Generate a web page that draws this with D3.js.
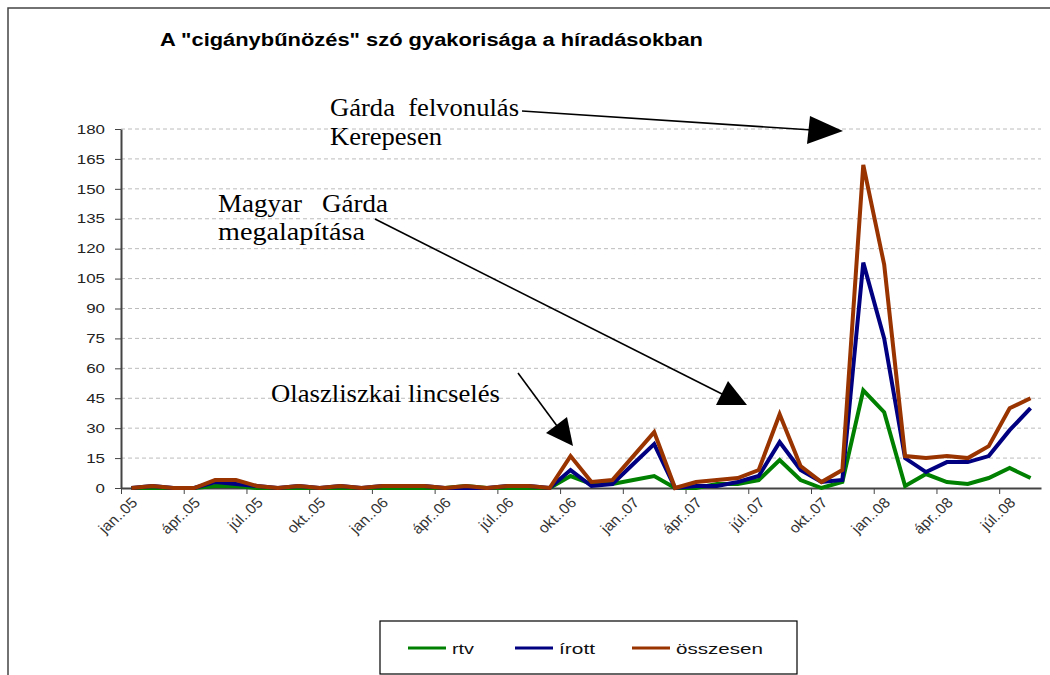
<!DOCTYPE html>
<html>
<head>
<meta charset="utf-8">
<script src="https://cdn.jsdelivr.net/npm/d3@7/dist/d3.min.js"></script>
<style>
  body { margin: 0; background: #fff; }
  svg { display: block; }
</style>
</head>
<body>
<svg width="1050" height="675"></svg>
<script>
// months, jan 2005 .. aug 2008 (Excel "mmm.yy" with Hungarian abbreviations)
var months = [
  "jan..05","febr..05","márc..05","ápr..05","máj..05","jún..05","júl..05","aug..05","szept..05","okt..05","nov..05","dec..05",
  "jan..06","febr..06","márc..06","ápr..06","máj..06","jún..06","júl..06","aug..06","szept..06","okt..06","nov..06","dec..06",
  "jan..07","febr..07","márc..07","ápr..07","máj..07","jún..07","júl..07","aug..07","szept..07","okt..07","nov..07","dec..07",
  "jan..08","febr..08","márc..08","ápr..08","máj..08","jún..08","júl..08","aug..08"
];

var rtv = [0,0,0,0,1,1,0,0,0,0, 0,0,0,0,0,0,1,0,0,0,
           0,6,2,2,4,6,0,0,2,2, 4,14,4,0,3,49,38,1,7,3, 2,5,10,5];
var irott = [0,1,0,0,3,2,1,0,1,0, 1,0,1,1,1,0,0,0,1,1,
             0,9,1,2,12,22,0,1,1,3, 6,23,9,3,4,113,75,15,8,13, 13,16,29,40];
var osszesen = [0,1,0,0,4,4,1,0,1,0, 1,0,1,1,1,0,1,0,1,1,
                0,16,3,4,16,28,0,3,4,5, 9,37,11,3,9,162,112,16,15,16, 15,21,40,45];

var yTicks = [0,15,30,45,60,75,90,105,120,135,150,165,180];
var seriesNames = ["rtv", "írott", "összesen"];
var seriesColors = ["#008000", "#000080", "#993300"];

var title = 'A "cigánybűnözés" szó gyakorisága a híradásokban';

var svg = d3.select("svg");
var sans = "'Liberation Sans', Arial, sans-serif";
var serif = "'Liberation Serif', 'Times New Roman', serif";

// picture is stretched sideways, so text gets a wider box
function stretch(sel, k) {
  sel.each(function() {
    var len = this.getComputedTextLength();
    d3.select(this).attr("textLength", len * k).attr("lengthAdjust", "spacingAndGlyphs");
  });
}

// outer frame (cut off right and bottom)
svg.append("rect")
  .attr("x", 8).attr("y", 8)
  .attr("width", 1100).attr("height", 700)
  .attr("fill", "#fff")
  .attr("stroke", "#444").attr("stroke-width", 1.5);

svg.append("text")
  .attr("x", 160).attr("y", 46)
  .attr("font-family", sans).attr("font-size", 18).attr("font-weight", "bold")
  .attr("textLength", 543).attr("lengthAdjust", "spacingAndGlyphs")
  .text(title);

var x = d3.scaleBand().domain(months).range([121, 1041]);
var xi = d3.scaleLinear().domain([0, months.length]).range([121, 1041]);
var y = d3.scaleLinear().domain([0, 180]).range([488, 129]);

// grid
svg.append("g").selectAll("line")
  .data(yTicks.filter(function(d) { return d > 0; }))
  .join("line")
  .attr("x1", 121).attr("x2", 1041)
  .attr("y1", function(d) { return y(d); })
  .attr("y2", function(d) { return y(d); })
  .attr("stroke", "#bcbcbc")
  .attr("stroke-dasharray", "4,3");

// y axis
var yAxis = svg.append("g")
  .attr("transform", "translate(121,0)")
  .call(d3.axisLeft(y).tickValues(yTicks).tickSize(6).tickPadding(10).tickSizeOuter(0));
yAxis.select(".domain").attr("stroke", "#444").attr("stroke-width", 2);
yAxis.selectAll(".tick line").attr("stroke", "#444");
yAxis.selectAll("text")
  .attr("font-family", sans).attr("font-size", 13).attr("fill", "#222");
stretch(yAxis.selectAll("text"), 1.3);

// x axis: ticks between categories, one every 3 months
var tickIdx = months.map(function(m, i) { return i; }).filter(function(i) { return i % 3 == 0; });
var xAxis = svg.append("g")
  .attr("transform", "translate(0,488)")
  .call(d3.axisBottom(xi).tickValues(tickIdx).tickFormat("").tickSize(6).tickSizeOuter(0));
xAxis.select(".domain").attr("stroke", "#444").attr("stroke-width", 2);
xAxis.selectAll(".tick line").attr("stroke", "#444");

svg.append("g").selectAll("text")
  .data(tickIdx)
  .join("text")
  .attr("transform", function(i) {
    return "translate(" + (x(months[i]) + x.bandwidth() / 2 + 3) + ",500) scale(1.08,1) rotate(-45)";
  })
  .attr("text-anchor", "end")
  .attr("dy", "0.35em")
  .attr("font-family", sans).attr("font-size", 14.5).attr("fill", "#333")
  .text(function(i) { return months[i]; });

// lines
var line = d3.line()
  .x(function(d, i) { return x(months[i]) + x.bandwidth() / 2; })
  .y(function(d) { return y(d); });

[rtv, irott, osszesen].forEach(function(vals, k) {
  svg.append("path")
    .datum(vals)
    .attr("fill", "none")
    .attr("stroke", seriesColors[k])
    .attr("stroke-width", 4)
    .attr("stroke-linejoin", "miter")
    .attr("d", line);
});

// annotations
function note(txt, tx, ty, w) {
  svg.append("text")
    .attr("x", tx).attr("y", ty)
    .attr("font-family", serif).attr("font-size", 25)
    .attr("textLength", w).attr("lengthAdjust", "spacingAndGlyphs")
    .style("white-space", "pre")
    .text(txt);
}
note("Gárda  felvonulás", 330, 116, 189);
note("Kerepesen", 330, 145, 112);
note("Magyar   Gárda", 218, 212, 170);
note("megalapítása", 218, 240, 147);
note("Olaszliszkai lincselés", 271, 402, 229);

function arrow(x1, y1, x2, y2, head) {
  svg.append("line")
    .attr("x1", x1).attr("y1", y1).attr("x2", x2).attr("y2", y2)
    .attr("stroke", "#000").attr("stroke-width", 1.6);
  svg.append("polygon")
    .attr("points", head.map(function(p) { return p.join(","); }).join(" "))
    .attr("fill", "#000");
}
arrow(522, 111, 812, 130, [[810, 116], [843, 131], [807, 144]]);
arrow(375, 219, 724, 395, [[728, 381], [716, 405], [747, 405]]);
arrow(518, 373, 560, 430, [[567, 417], [546, 433], [573, 446]]);

// legend
var leg = svg.append("g");
leg.append("rect")
  .attr("x", 380).attr("y", 621)
  .attr("width", 417).attr("height", 53)
  .attr("fill", "#fff").attr("stroke", "#000").attr("stroke-width", 1.2);

var legX = [408, 515, 632];
var legW = [22, 36, 87];
seriesNames.forEach(function(name, k) {
  leg.append("line")
    .attr("x1", legX[k]).attr("x2", legX[k] + 38)
    .attr("y1", 648).attr("y2", 648)
    .attr("stroke", seriesColors[k]).attr("stroke-width", 3);
  leg.append("text")
    .attr("x", legX[k] + 44).attr("y", 654)
    .attr("font-family", sans).attr("font-size", 15).attr("fill", "#111")
    .attr("textLength", legW[k]).attr("lengthAdjust", "spacingAndGlyphs")
    .text(name);
});
</script>
</body>
</html>
